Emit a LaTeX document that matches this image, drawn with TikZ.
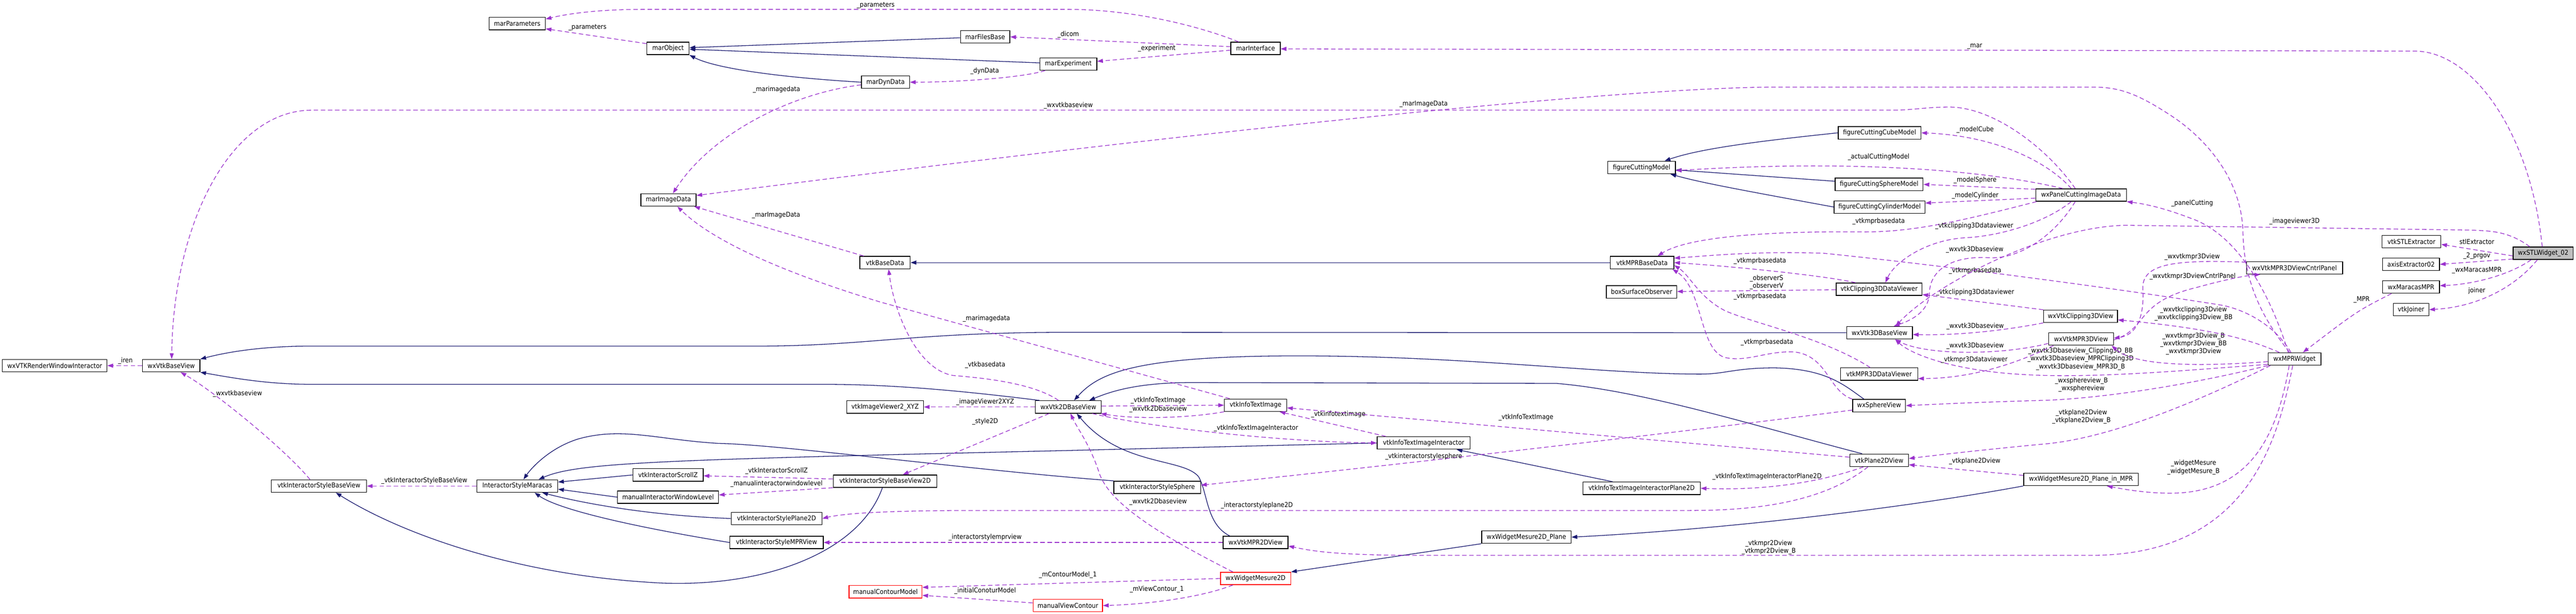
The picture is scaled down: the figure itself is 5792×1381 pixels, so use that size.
\documentclass[tikz,border=0pt]{standalone}
\usepackage{fontspec}
\setmainfont{DejaVu Sans}[FakeStretch=0.9]
\usetikzlibrary{arrows.meta}
\definecolor{usecol}{HTML}{9A32CD}
\definecolor{inhcol}{HTML}{191970}
\definecolor{stlgray}{HTML}{BFBFBF}
\newcommand{\nf}{\fontsize{15}{17.5}\selectfont}
\tikzset{
  cls/.style={draw=black, line width=1.6pt, minimum height=28pt, inner xsep=5pt, inner ysep=0pt, font=\nf},
  redcls/.style={cls, draw=red},
  usage/.style={draw=usecol, line width=1.5pt, dash pattern=on 10pt off 6pt, -{Triangle[length=13pt,width=9pt]}},
  inherit/.style={draw=inhcol, line width=1.5pt, -{Triangle[length=13pt,width=9pt]}},
  lbl/.style={font=\nf, inner sep=0pt, align=center}
}
\begin{document}
\begin{tikzpicture}[x=1pt, y=-1pt]
\useasboundingbox (0,0) rectangle (5792,1381);
% classes
\node[cls, minimum width=126pt] (marParameters) at (1163,53) {marParameters};
\node[cls, minimum width=95pt] (marObject) at (1502,109) {marObject};
\node[cls, minimum width=111pt] (marFilesBase) at (2215,83) {marFilesBase};
\node[cls, minimum width=128pt] (marExperiment) at (2402,144) {marExperiment};
\node[cls, minimum width=111pt] (marInterface) at (2823,109) {marInterface};
\node[cls, minimum width=108pt] (marDynData) at (1991,185) {marDynData};
\node[cls, minimum width=124pt] (marImageData) at (1503,450) {marImageData};
\node[cls, minimum width=113pt] (vtkBaseData) at (1990,591) {vtkBaseData};
\node[cls, minimum width=152pt] (figureCuttingModel) at (3691,377) {figureCuttingModel};
\node[cls, minimum width=186pt] (figureCuttingCubeModel) at (4226,299) {figureCuttingCubeModel};
\node[cls, minimum width=198pt] (figureCuttingSphereModel) at (4225,415) {figureCuttingSphereModel};
\node[cls, minimum width=204pt] (figureCuttingCylinderModel) at (4226,466) {figureCuttingCylinderModel};
\node[cls, minimum width=204pt] (wxPanelCuttingImageData) at (4679,439) {wxPanelCuttingImageData};
\node[cls, minimum width=143pt] (vtkMPRBaseData) at (3692,591) {vtkMPRBaseData};
\node[cls, minimum width=158pt] (boxSurfaceObserver) at (3691,657) {boxSurfaceObserver};
\node[cls, minimum width=193pt] (vtkClipping3DDataViewer) at (4225,651) {vtkClipping3DDataViewer};
\node[cls, minimum width=216pt] (wxVtkMPR3DViewCntrlPanel) at (5159,603) {wxVtkMPR3DViewCntrlPanel};
\node[cls, minimum width=132pt] (vtkSTLExtractor) at (5422,544) {vtkSTLExtractor};
\node[cls, minimum width=128pt] (axisExtractor02) at (5421,595) {axisExtractor02};
\node[cls, minimum width=128pt] (wxMaracasMPR) at (5421,646) {wxMaracasMPR};
\node[cls, minimum width=80pt] (vtkJoiner) at (5421,697) {vtkJoiner};
\node[cls, fill=stlgray, minimum width=135pt] (wxSTLWidget02) at (5718,570) {wxSTLWidget\_02};
\node[cls, minimum width=235pt] (wxVTKRenderWindowInteractor) at (123,823) {wxVTKRenderWindowInteractor};
\node[cls, minimum width=129pt] (wxVtkBaseView) at (385,823) {wxVtkBaseView};
\node[cls, minimum width=214pt] (vtkInteractorStyleBaseView) at (717,1094) {vtkInteractorStyleBaseView};
\node[cls, minimum width=182pt] (InteractorStyleMaracas) at (1163,1094) {InteractorStyleMaracas};
\node[cls, minimum width=173pt] (vtkImageViewer2XYZ) at (1990,916) {vtkImageViewer2\_XYZ};
\node[cls, minimum width=148pt] (wxVtk2DBaseView) at (2402,916) {wxVtk2DBaseView};
\node[cls, minimum width=158pt] (vtkInteractorScrollZ) at (1502,1069) {vtkInteractorScrollZ};
\node[cls, minimum width=227pt] (manualInteractorWindowLevel) at (1502,1119) {manualInteractorWindowLevel};
\node[cls, minimum width=233pt] (vtkInteractorStyleBaseView2D) at (1990,1083) {vtkInteractorStyleBaseView2D};
\node[cls, minimum width=204pt] (vtkInteractorStylePlane2D) at (1746,1167) {vtkInteractorStylePlane2D};
\node[cls, minimum width=210pt] (vtkInteractorStyleMPRView) at (1746,1221) {vtkInteractorStyleMPRView};
\node[redcls, minimum width=164pt] (manualContourModel) at (1991,1332) {manualContourModel};
\node[redcls, minimum width=156pt] (manualViewContour) at (2401,1363) {manualViewContour};
\node[cls, minimum width=140pt] (vtkInfoTextImage) at (2823,912) {vtkInfoTextImage};
\node[cls, minimum width=209pt] (vtkInfoTextImageInteractor) at (3201,997) {vtkInfoTextImageInteractor};
\node[cls, minimum width=195pt] (vtkInteractorStyleSphere) at (2602,1097) {vtkInteractorStyleSphere};
\node[cls, minimum width=146pt] (wxVtkMPR2DView) at (2823,1221) {wxVtkMPR2DView};
\node[redcls, minimum width=158pt] (wxWidgetMesure2D) at (2823,1302) {wxWidgetMesure2D};
\node[cls, minimum width=201pt] (wxWidgetMesure2DPlane) at (3432,1209) {wxWidgetMesure2D\_Plane};
\node[cls, minimum width=148pt] (wxVtk3DBaseView) at (4226,749) {wxVtk3DBaseView};
\node[cls, minimum width=174pt] (vtkMPR3DDataViewer) at (4225,842) {vtkMPR3DDataViewer};
\node[cls, minimum width=119pt] (wxSphereView) at (4225,913) {wxSphereView};
\node[cls, minimum width=132pt] (vtkPlane2DView) at (4225,1036) {vtkPlane2DView};
\node[cls, minimum width=264pt] (vtkInfoTextImageInteractorPlane2D) at (3691,1099) {vtkInfoTextImageInteractorPlane2D};
\node[cls, minimum width=258pt] (wxWidgetMesure2DPlaneInMPR) at (4679,1079) {wxWidgetMesure2D\_Plane\_in\_MPR};
\node[cls, minimum width=166pt] (wxVtkClipping3DView) at (4678,712) {wxVtkClipping3DView};
\node[cls, minimum width=146pt] (wxVtkMPR3DView) at (4679,763) {wxVtkMPR3DView};
\node[cls, minimum width=119pt] (wxMPRWidget) at (5159,808) {wxMPRWidget};
% inheritance
\draw[inherit] (marFilesBase) -- (marObject);
\draw[inherit] (marExperiment) -- (marObject);
\draw[inherit] (marDynData.west) .. controls (1720,172) and (1600,150) .. (marObject.south east);
\draw[inherit] (vtkMPRBaseData) -- (vtkBaseData);
\draw[inherit] (figureCuttingCubeModel.west) .. controls (3950,318) and (3820,335) .. ([xshift=-25pt]figureCuttingModel.north east);
\draw[inherit] (figureCuttingSphereModel) -- (figureCuttingModel);
\draw[inherit] (figureCuttingCylinderModel.west) .. controls (3900,425) and (3820,410) .. ([xshift=-12pt]figureCuttingModel.south east);
\draw[inherit] (wxVtk3DBaseView.west) -- (2400,748) .. controls (2050,748) and (1950,779) .. (1700,779) -- (700,779) .. controls (600,779) and (520,790) .. (wxVtkBaseView.north east);
\draw[inherit] ([xshift=10pt]wxVtk2DBaseView.north west) .. controls (2150,878) and (2000,865) .. (1850,865) -- (700,865) .. controls (600,865) and (520,850) .. (wxVtkBaseView.south east);
\draw[inherit] ([xshift=-34pt]wxSphereView.north) .. controls (4150,870) and (4110,830) .. (3990,828) .. controls (3900,828) and (3880,842) .. (3823,842) .. controls (3600,842) and (3300,801) .. (2919,801) .. controls (2550,801) and (2470,840) .. ([xshift=13pt]wxVtk2DBaseView.north);
\draw[inherit] ([xshift=-38pt]vtkPlane2DView.north) .. controls (3950,960) and (3700,880) .. (3500,863) -- (2681,861) .. controls (2560,861) and (2500,880) .. ([xshift=47pt]wxVtk2DBaseView.north);
\draw[inherit] ([xshift=-58pt]wxVtkMPR2DView.north) .. controls (2712,1180) and (2716,1110) .. (2695,1073) .. controls (2660,1030) and (2520,1050) .. ([xshift=19pt]wxVtk2DBaseView.south);
\draw[inherit] ([xshift=-65pt]vtkInfoTextImageInteractorPlane2D.north) -- ([xshift=74pt]vtkInfoTextImageInteractor.south);
\draw[inherit] (vtkInfoTextImageInteractor.west) -- (2400,1014) .. controls (1500,1035) and (1300,1040) .. ([xshift=48pt]InteractorStyleMaracas.north);
\draw[inherit] (vtkInteractorStyleSphere.north west) .. controls (2200,1060) and (1750,1000) .. (1616,998) .. controls (1480,990) and (1400,960) .. (1300,988) .. controls (1230,1010) and (1190,1060) .. ([xshift=14pt]InteractorStyleMaracas.north);
\draw[inherit] (vtkInteractorScrollZ.west) -- ([yshift=9pt]InteractorStyleMaracas.east);
\draw[inherit] (manualInteractorWindowLevel.west) -- ([yshift=-7pt]InteractorStyleMaracas.east);
\draw[inherit] (vtkInteractorStylePlane2D.west) .. controls (1450,1160) and (1300,1130) .. ([xshift=56pt]InteractorStyleMaracas.south);
\draw[inherit] (vtkInteractorStyleMPRView.west) .. controls (1450,1190) and (1260,1150) .. ([xshift=39pt]InteractorStyleMaracas.south);
\draw[inherit] ([xshift=-6pt]vtkInteractorStyleBaseView2D.south) .. controls (1930,1250) and (1700,1330) .. (1450,1310) .. controls (1150,1290) and (900,1200) .. ([xshift=38pt]vtkInteractorStyleBaseView.south);
\draw[inherit] (wxWidgetMesure2DPlane.south west) -- (wxWidgetMesure2D.north east);
\draw[inherit] (wxWidgetMesure2DPlaneInMPR.south west) .. controls (4300,1140) and (3900,1190) .. (wxWidgetMesure2DPlane.east);
% usage, top part
\draw[usage] ([xshift=-38pt]marInterface.north) .. controls (2700,60) and (2550,21) .. (2400,21) -- (1450,21) .. controls (1350,21) and (1280,30) .. ([yshift=10pt]marParameters.east);
\node[lbl] (lParamA) at (1969,12) {\_parameters};
\draw[usage] ([yshift=-4pt]marObject.north west) -- ([yshift=3pt]marParameters.south east);
\node[lbl] (lParamB) at (1321,62) {\_parameters};
\draw[usage] ([yshift=4pt]marInterface.west) -- (marFilesBase.east);
\node[lbl] (lDicom) at (2402,78) {\_dicom};
\draw[usage] ([yshift=-4pt]marInterface.west) -- ([yshift=6pt]marExperiment.east);
\node[lbl] (lExperiment) at (2601,109) {\_experiment};
\draw[usage] ([xshift=-52pt]marExperiment.south) .. controls (2300,175) and (2150,185) .. (marDynData.east);
\node[lbl] (lDynData) at (2214,160) {\_dynData};
\draw[usage] ([yshift=-6pt]marDynData.west) .. controls (1780,210) and (1600,300) .. ([xshift=10pt]marImageData.north);
\node[lbl] (lMarimA) at (1746,202) {\_marimagedata};
\draw[usage] ([xshift=-2pt]wxSTLWidget02.north) .. controls (5690,300) and (5560,115) .. (5429,115) -- ([yshift=-1pt]marInterface.east);
\node[lbl] (lMar) at (4440,105) {\_mar};
\draw[usage] ([xshift=-13pt]wxPanelCuttingImageData.north) .. controls (4600,330) and (4480,241) .. (4383,241) .. controls (4330,241) and (4300,248) .. (4255,248) -- (701,248) .. controls (520,248) and (390,500) .. ([xshift=1pt]wxVtkBaseView.north);
\node[lbl] (lWxbaseA) at (2402,238) {\_wxvtkbaseview};
\draw[usage] ([xshift=-11pt]wxMPRWidget.north) .. controls (5090,720) and (5045,640) .. (5043,520) .. controls (5040,420) and (4980,330) .. (4893,268) .. controls (4800,205) and (4760,196) .. (4701,196) -- (4000,196) .. controls (3600,196) and (2500,320) .. ([yshift=10pt]marImageData.east);
\node[lbl] (lMarImB) at (3201,234) {\_marImageData};
\draw[usage] ([xshift=-48pt]vtkBaseData.north) -- ([xshift=-5pt]marImageData.south east);
\node[lbl] (lMarImC) at (1745,484) {\_marImageData};
\draw[usage] ([xshift=-58pt]vtkInfoTextImage.north) -- (1980,680) .. controls (1750,610) and (1600,540) .. ([xshift=20pt]marImageData.south);
\node[lbl] (lMarimD) at (2218,717) {\_marimagedata};
\draw[usage] ([xshift=-22pt]wxVtk2DBaseView.north) .. controls (2320,860) and (2200,850) .. (2142,845) .. controls (2060,830) and (2010,700) .. ([xshift=8pt]vtkBaseData.south);
\node[lbl] (lVtkbasedata) at (2215,821) {\_vtkbasedata};
% usage, left part
\draw[usage] (wxVtkBaseView) -- (wxVTKRenderWindowInteractor);
\node[lbl] (lIren) at (282,812) {\_iren};
\draw[usage] ([xshift=-20pt]vtkInteractorStyleBaseView.north) .. controls (640,1010) and (480,880) .. ([xshift=21pt]wxVtkBaseView.south);
\node[lbl] (lWxbaseB) at (534,886) {\_wxvtkbaseview};
\draw[usage] (InteractorStyleMaracas) -- (vtkInteractorStyleBaseView);
\node[lbl] (lStyleBase) at (954,1082) {\_vtkInteractorStyleBaseView};
\draw[usage] (wxVtk2DBaseView) -- (vtkImageViewer2XYZ);
\node[lbl] (lViewerXYZ) at (2215,905) {\_imageViewer2XYZ};
\draw[usage] ([xshift=-43pt]wxVtk2DBaseView.south) -- ([xshift=40pt]vtkInteractorStyleBaseView2D.north);
\node[lbl] (lStyle2D) at (2215,949) {\_style2D};
\draw[usage] ([yshift=5pt]vtkInteractorStyleBaseView2D.west) -- ([yshift=-2pt]vtkInteractorScrollZ.east);
\node[lbl] (lScrollZ) at (1746,1060) {\_vtkInteractorScrollZ};
\draw[usage] (vtkInteractorStyleBaseView2D.south west) -- ([yshift=5pt]manualInteractorWindowLevel.east);
\node[lbl] (lWinLevel) at (1746,1089) {\_manualinteractorwindowlevel};
\draw[usage] ([xshift=-25pt]vtkPlane2DView.south) .. controls (4100,1130) and (3950,1149) .. (3800,1149) -- (2200,1149) .. controls (2000,1149) and (1900,1155) .. (vtkInteractorStylePlane2D.east);
\node[lbl] (lStylePlane) at (2826,1138) {\_interactorstyleplane2D};
\draw[usage] (wxVtkMPR2DView) -- (vtkInteractorStyleMPRView);
\node[lbl] (lStyleMPR) at (2215,1209) {\_interactorstylemprview};
\draw[usage] (wxWidgetMesure2D.west) -- ([yshift=10pt]manualContourModel.east);
\node[lbl] (lContour) at (2401,1294) {\_mContourModel\_1};
\draw[usage] ([yshift=6pt]manualViewContour.west) -- ([yshift=-8pt]manualContourModel.east);
\node[lbl] (lInitial) at (2215,1330) {\_initialConoturModel};
\draw[usage] ([xshift=-51pt]wxWidgetMesure2D.south) .. controls (2700,1345) and (2580,1360) .. (manualViewContour.east);
\node[lbl] (lViewContour) at (2601,1326) {\_mViewContour\_1};
\draw[usage] ([xshift=-51pt]wxWidgetMesure2D.north) .. controls (2600,1200) and (2490,1130) .. (2470,1060) .. controls (2450,1000) and (2420,960) .. ([xshift=5pt]wxVtk2DBaseView.south);
\node[lbl] (lWx2DA) at (2604,1129) {\_wxvtk2Dbaseview};
% usage, middle part
\draw[usage] ([yshift=2pt]wxVtk2DBaseView.east) -- (vtkInfoTextImage.west);
\node[lbl] (lInfoA) at (2604,901) {\_vtkInfoTextImage};
\draw[usage] (vtkInfoTextImage.south west) .. controls (2680,940) and (2560,945) .. ([xshift=-2pt]wxVtk2DBaseView.south east);
\node[lbl] (lWx2DB) at (2604,921) {\_wxvtk2Dbaseview};
\draw[usage] ([xshift=54pt]wxVtk2DBaseView.south) .. controls (2600,965) and (2900,995) .. (vtkInfoTextImageInteractor.west);
\node[lbl] (lInfoInter) at (2824,964) {\_vtkInfoTextImageInteractor};
\draw[usage] ([xshift=-85pt]vtkInfoTextImageInteractor.north) -- ([xshift=54pt]vtkInfoTextImage.south);
\node[lbl] (lInfoB) at (3009,933) {\_vtkinfotextimage};
\draw[usage] ([yshift=7pt]vtkPlane2DView.west) -- ([yshift=-6pt]vtkInfoTextImage.east);
\node[lbl] (lInfoC) at (3431,940) {\_vtkInfoTextImage};
\draw[usage] ([yshift=-10pt]wxSphereView.west) .. controls (3800,970) and (3200,1040) .. ([yshift=5pt]vtkInteractorStyleSphere.east);
\node[lbl] (lSphereStyle) at (3201,1028) {\_vtkinteractorstylesphere};
\draw[usage] ([xshift=-35pt]vtkPlane2DView.south) .. controls (4080,1090) and (3950,1104) .. (vtkInfoTextImageInteractorPlane2D.east);
\node[lbl] (lInfoPlane) at (3973,1073) {\_vtkInfoTextImageInteractorPlane2D};
% usage, from wxMPRWidget
\draw[usage] ([xshift=-4pt]wxMPRWidget.south) .. controls (5120,1000) and (5050,1250) .. (4700,1250) -- (3200,1250) .. controls (3000,1250) and (2950,1240) .. ([yshift=-8pt]wxVtkMPR2DView.east);
\node[lbl] (lMpr2D) at (3977,1232) {\_vtkmpr2Dview\\\_vtkmpr2Dview\_B};
\draw[usage] ([xshift=-12pt]wxMPRWidget.south) .. controls (5120,980) and (5060,1110) .. (4880,1110) .. controls (4820,1110) and (4770,1100) .. ([xshift=58pt]wxWidgetMesure2DPlaneInMPR.south);
\node[lbl] (lMesure) at (4932,1052) {\_widgetMesure\\\_widgetMesure\_B};
\draw[usage] ([xshift=6pt]wxMPRWidget.south west) .. controls (4950,900) and (4750,985) .. (4600,999) .. controls (4450,1013) and (4350,1025) .. ([yshift=4pt]vtkPlane2DView.east);
\node[lbl] (lPlaneA) at (4680,938) {\_vtkplane2Dview\\\_vtkplane2Dview\_B};
\draw[usage] ([yshift=9pt]wxWidgetMesure2DPlaneInMPR.west) -- ([yshift=-10pt]vtkPlane2DView.east);
\node[lbl] (lPlaneB) at (4440,1038) {\_vtkplane2Dview};
\draw[usage] (wxMPRWidget.south west) .. controls (4950,860) and (4750,895) .. (4600,901) .. controls (4450,905) and (4350,910) .. (wxSphereView.east);
\node[lbl] (lSphere) at (4680,866) {\_wxsphereview\_B\\\_wxsphereview};
\draw[usage] ([yshift=-12pt]wxMPRWidget.west) .. controls (4900,835) and (4700,852) .. (4550,843) .. controls (4400,835) and (4300,800) .. ([xshift=35pt]wxVtk3DBaseView.south);
\node[lbl] (lBase3DA) at (4678,808) {\_wxvtk3Dbaseview\_Clipping3D\_BB\\\_wxvtk3Dbaseview\_MPRClipping3D\\\_wxvtk3Dbaseview\_MPR3D\_B};
\draw[usage] ([yshift=-6pt]wxMPRWidget.west) .. controls (4950,825) and (4800,825) .. ([xshift=-5pt]wxVtkMPR3DView.south east);
\node[lbl] (lMpr3D) at (4932,774) {\_wxvtkmpr3Dview\_B\\\_wxvtkmpr3Dview\_BB\\\_wxvtkmpr3Dview};
\draw[usage] ([xshift=-34pt]wxMPRWidget.north) .. controls (5060,765) and (4980,740) .. ([yshift=-8pt]wxVtkClipping3DView.east);
\node[lbl] (lClip3D) at (4932,706) {\_wxvtkclipping3Dview\\\_wxvtkclipping3Dview\_BB};
\draw[usage] ([xshift=-14pt]wxMPRWidget.north) .. controls (5110,680) and (5040,530) .. (4925,491) .. controls (4870,470) and (4830,460) .. (wxPanelCuttingImageData.south east);
\node[lbl] (lPanel) at (4929,458) {\_panelCutting};
\draw[usage] ([xshift=-8pt]wxMPRWidget.north) .. controls (5120,740) and (5060,700) .. (4996,687) .. controls (4700,640) and (4300,590) .. (4100,570) .. controls (3950,565) and (3850,575) .. ([yshift=10pt]vtkMPRBaseData.east);
\node[lbl] (lMprBaseA) at (4441,610) {\_vtkmprbasedata};
% usage, around vtkMPRBaseData
\draw[usage] ([xshift=-100pt]wxPanelCuttingImageData.south) .. controls (4400,500) and (4300,522) .. (4191,522) .. controls (4000,520) and (3800,530) .. ([xshift=35pt]vtkMPRBaseData.north);
\node[lbl] (lMprBaseB) at (4224,498) {\_vtkmprbasedata};
\draw[usage] ([xshift=-53pt]vtkClipping3DDataViewer.north) .. controls (4100,620) and (3900,600) .. (vtkMPRBaseData.east);
\node[lbl] (lMprBaseC) at (3957,588) {\_vtkmprbasedata};
\draw[usage] (vtkClipping3DDataViewer) -- (boxSurfaceObserver);
\node[lbl] (lObserver) at (3972,636) {\_observerS\\\_observerV};
\draw[usage] ([xshift=-20pt]vtkMPR3DDataViewer.north) .. controls (4100,760) and (3950,730) .. (3880,700) .. controls (3820,670) and (3800,620) .. ([yshift=-6pt]vtkMPRBaseData.east);
\node[lbl] (lMprBaseD) at (3957,667) {\_vtkmprbasedata};
\draw[usage] (wxSphereView.north west) .. controls (4110,880) and (4110,800) .. (4033,792) .. controls (3970,790) and (3930,815) .. (3880,805) .. controls (3820,790) and (3830,650) .. ([xshift=-4pt]vtkMPRBaseData.south east);
\node[lbl] (lMprBaseE) at (3973,770) {\_vtkmprbasedata};
% usage, wxPanelCuttingImageData
\draw[usage] ([xshift=-41pt]wxPanelCuttingImageData.north) .. controls (4450,380) and (4150,360) .. ([yshift=-7pt]figureCuttingModel.east);
\node[lbl] (lActual) at (4224,354) {\_actualCuttingModel};
\draw[usage] ([xshift=-22pt]wxPanelCuttingImageData.north) .. controls (4600,360) and (4480,305) .. (figureCuttingCubeModel.east);
\node[lbl] (lCube) at (4441,292) {\_modelCube};
\draw[usage] ([yshift=13pt]wxPanelCuttingImageData.west) -- (figureCuttingSphereModel.east);
\node[lbl] (lSphereModel) at (4441,406) {\_modelSphere};
\draw[usage] ([yshift=-7pt]wxPanelCuttingImageData.west) -- ([yshift=9pt]figureCuttingCylinderModel.east);
\node[lbl] (lCylinder) at (4441,440) {\_modelCylinder};
\draw[usage] ([xshift=-22pt]wxPanelCuttingImageData.south) .. controls (4600,500) and (4500,531) .. (4420,535) .. controls (4330,540) and (4260,590) .. ([xshift=14pt]vtkClipping3DDataViewer.north);
\node[lbl] (lClipViewerA) at (4439,509) {\_vtkclipping3Ddataviewer};
\draw[usage] ([xshift=-13pt]wxPanelCuttingImageData.south) .. controls (4620,530) and (4540,585) .. (4470,580) .. controls (4400,576) and (4340,600) .. (4338,660) .. controls (4337,700) and (4300,720) .. ([xshift=32pt]wxVtk3DBaseView.north);
\node[lbl] (lBase3DB) at (4440,562) {\_wxvtk3Dbaseview};
% usage, 3D views
\draw[usage] (wxVtkClipping3DView.north west) -- ([yshift=-12pt]vtkClipping3DDataViewer.east);
\node[lbl] (lClipViewerB) at (4441,658) {\_vtkclipping3Ddataviewer};
\draw[usage] (wxVtkClipping3DView.south west) .. controls (4500,745) and (4400,755) .. ([yshift=-4pt]wxVtk3DBaseView.east);
\node[lbl] (lBase3DC) at (4441,734) {\_wxvtk3Dbaseview};
\draw[usage] ([yshift=-10pt]wxVtkMPR3DView.west) .. controls (4500,800) and (4330,800) .. ([xshift=35pt]wxVtk3DBaseView.south);
\node[lbl] (lBase3DD) at (4441,778) {\_wxvtk3Dbaseview};
\draw[usage] ([xshift=-62pt]wxVtkMPR3DView.south) .. controls (4520,825) and (4420,852) .. ([yshift=-10pt]vtkMPR3DDataViewer.east);
\node[lbl] (lMpr3DViewer) at (4439,810) {\_vtkmpr3Ddataviewer};
\draw[usage] ([yshift=-2pt]wxVtkMPR3DView.east) .. controls (4830,740) and (4800,680) .. (4939,647) .. controls (5000,630) and (5050,620) .. ([xshift=-77pt]wxVtkMPR3DViewCntrlPanel.south);
\node[lbl] (lCntrl) at (4930,622) {\_wxvtkmpr3DviewCntrlPanel};
\draw[usage] ([yshift=13pt]wxVtkMPR3DViewCntrlPanel.west) .. controls (4900,585) and (4815,590) .. (4818,650) .. controls (4822,720) and (4800,755) .. ([yshift=2pt]wxVtkMPR3DView.east);
\node[lbl] (lMpr3DB) at (4929,578) {\_wxvtkmpr3Dview};
% usage, wxSTLWidget_02
\draw[usage] ([xshift=-44pt]wxMaracasMPR.south) .. controls (5300,700) .. ([xshift=19pt]wxMPRWidget.north);
\node[lbl] (lMPR) at (5310,674) {\_MPR};
\draw[usage] ([yshift=-6pt]wxSTLWidget02.west) -- ([yshift=-6pt]vtkSTLExtractor.east);
\node[lbl] (lStl) at (5569,544) {stlExtractor};
\draw[usage] ([yshift=-13pt]wxSTLWidget02.west) -- (axisExtractor02.east);
\node[lbl] (lPrgov) at (5569,576) {\_2\_prgov};
\draw[usage] ([xshift=-27pt]wxSTLWidget02.south) .. controls (5640,620) and (5560,640) .. ([yshift=3pt]wxMaracasMPR.east);
\node[lbl] (lMaracas) at (5569,608) {\_wxMaracasMPR};
\draw[usage] ([xshift=-13pt]wxSTLWidget02.south) .. controls (5660,640) and (5580,690) .. (vtkJoiner.east);
\node[lbl] (lJoiner) at (5569,654) {joiner};
\draw[usage] ([xshift=-30pt]wxSTLWidget02.north) .. controls (5640,520) and (5600,520) .. (5560,518) -- (4780,507) .. controls (4600,510) and (4350,640) .. ([xshift=36pt]wxVtk3DBaseView.north);
\node[lbl] (lViewer3D) at (5159,498) {\_imageviewer3D};
\end{tikzpicture}
\end{document}
